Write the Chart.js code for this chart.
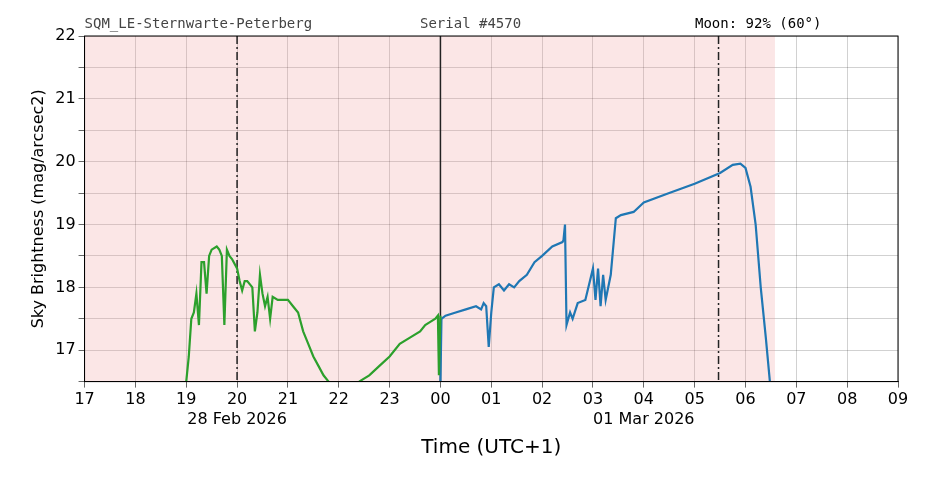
<!DOCTYPE html><html><head><script src="https://cdn.jsdelivr.net/npm/chart.js@4"></script>
<style>body{margin:0;background:#fff}#w{width:926px;height:488px}</style></head><body><div id="w"><canvas id="c"></canvas></div>
<script>
const xTicks=[17,18,19,20,21,22,23,24,25,26,27,28,29,30,31,32,33];
const xLabels=['17','18','19','20','21','22','23','00','01','02','03','04','05','06','07','08','09'];
const dateLabels={20:'28 Feb 2026',28:'01 Mar 2026'};
const greenX=[19.0,19.05,19.1,19.15,19.2,19.25,19.3,19.35,19.4,19.45,19.5,19.6,19.65,19.7,19.75,19.8,19.85,19.9,20.0,20.05,20.1,20.15,20.2,20.3,20.35,20.4,20.45,20.5,20.55,20.6,20.65,20.7,20.8,21.0,21.1,21.2,21.3,21.4,21.5,21.6,21.7,21.8,null,22.4,22.6,22.8,23.0,23.2,23.4,23.6,23.7,23.8,23.9,23.95,23.97,24.0];
const greenY=[16.5,16.9,17.5,17.6,17.9,17.4,18.4,18.4,17.9,18.5,18.6,18.65,18.6,18.5,17.4,18.6,18.5,18.45,18.3,18.1,17.95,18.1,18.1,18.0,17.3,17.6,18.2,17.9,17.7,17.85,17.5,17.85,17.8,17.8,17.7,17.6,17.3,17.1,16.9,16.75,16.6,16.5,null,16.5,16.6,16.75,16.9,17.1,17.2,17.3,17.4,17.45,17.5,17.55,16.6,17.55];
const blueX=[24.0,24.02,24.1,24.3,24.5,24.7,24.8,24.85,24.9,24.95,25.0,25.05,25.15,25.25,25.35,25.45,25.55,25.7,25.85,26.0,26.2,26.4,26.42,26.45,26.48,26.55,26.6,26.7,26.85,27.0,27.05,27.1,27.15,27.2,27.25,27.35,27.45,27.55,27.8,28.0,28.5,29.0,29.5,29.75,29.9,30.0,30.1,30.2,30.3,30.4,30.48];
const blueY=[16.5,17.5,17.55,17.6,17.65,17.7,17.65,17.75,17.7,17.05,17.6,18.0,18.05,17.95,18.05,18.0,18.1,18.2,18.4,18.5,18.65,18.72,18.75,19.0,17.4,17.6,17.5,17.75,17.8,18.3,17.8,18.3,17.7,18.2,17.8,18.2,19.1,19.15,19.2,19.35,19.5,19.65,19.82,19.95,19.97,19.9,19.6,19.0,18.0,17.2,16.5];
const shadeEnd=30.58, dashLines=[20,29.47], solidLine=24;
const pts=(xs,ys)=>xs.map((x,i)=>x===null?{x:NaN,y:NaN}:{x,y:ys[i]});
const deco={id:'deco',
 beforeDatasetsDraw(ch){const {ctx,chartArea:a,scales:{x,y}}=ch;ctx.save();ctx.fillStyle='rgba(235,140,140,0.22)';ctx.fillRect(a.left,a.top,x.getPixelForValue(shadeEnd)-a.left,a.bottom-a.top);
 ctx.strokeStyle='#222';ctx.lineWidth=1.5;ctx.setLineDash([8,3,2,3]);dashLines.forEach(v=>{const p=x.getPixelForValue(v);ctx.beginPath();ctx.moveTo(p,a.top);ctx.lineTo(p,a.bottom);ctx.stroke();});
 ctx.setLineDash([]);const p=x.getPixelForValue(solidLine);ctx.beginPath();ctx.moveTo(p,a.top);ctx.lineTo(p,a.bottom);ctx.stroke();ctx.restore();},
 afterDraw(ch){const {ctx,chartArea:a}=ch;ctx.save();ctx.font='14px "DejaVu Sans Mono"';ctx.textBaseline='bottom';ctx.fillStyle='#444';ctx.fillText('SQM_LE-Sternwarte-Peterberg',a.left,31);ctx.fillText('Serial #4570',420,31);ctx.fillStyle='#000';ctx.fillText('Moon: 92% (60°)',695,31);
 ctx.strokeStyle='#000';ctx.lineWidth=1;ctx.strokeRect(a.left,a.top,a.right-a.left,a.bottom-a.top);ctx.restore();}};
new Chart(document.getElementById('c'),{type:'line',data:{datasets:[
 {data:pts(greenX,greenY),borderColor:'#2ca02c',borderWidth:2.2,pointRadius:0,spanGaps:false},
 {data:pts(blueX,blueY),borderColor:'#1f77b4',borderWidth:2.2,pointRadius:0}]},
 options:{responsive:true,maintainAspectRatio:false,animation:false,layout:{padding:{left:25,right:28,top:36,bottom:24}},
 plugins:{legend:{display:false},tooltip:{enabled:false}},
 scales:{x:{type:'linear',min:17,max:33,afterBuildTicks(s){s.ticks=xTicks.map(v=>({value:v}));},
  ticks:{autoSkip:false,maxRotation:0,color:'#000',font:{size:16,family:'DejaVu Sans'},callback:(v)=>{const i=xTicks.indexOf(v);return dateLabels[v]?[xLabels[i],dateLabels[v]]:xLabels[i];}},
  grid:{color:'rgba(0,0,0,0.3)',lineWidth:0.6,tickLength:6,tickColor:'#000'},border:{color:'#000'},
  title:{display:true,text:'Time (UTC+1)',color:'#000',font:{size:20,family:'DejaVu Sans'}}},
 y:{min:16.5,max:22,ticks:{stepSize:0.5,autoSkip:false,color:'#000',font:{size:16,family:'DejaVu Sans'},callback:v=>Number.isInteger(v)?String(v):''},
  grid:{color:'rgba(0,0,0,0.3)',lineWidth:0.6,tickLength:6,tickColor:'#000'},border:{color:'#000'},
  title:{display:true,text:'Sky Brightness (mag/arcsec2)',color:'#000',font:{size:16,family:'DejaVu Sans'}}}}},
 plugins:[deco]});
</script></body></html>
